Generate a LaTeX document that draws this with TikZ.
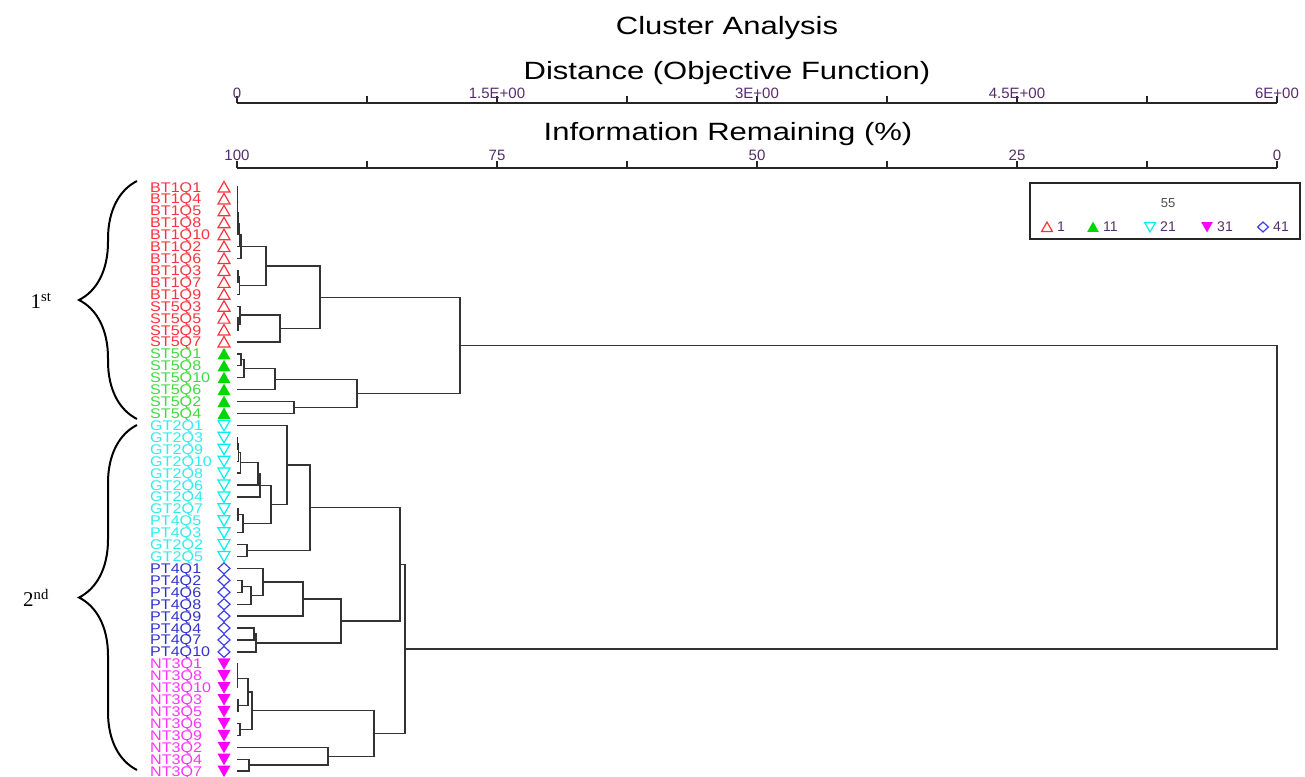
\documentclass[tikz,border=0pt]{standalone}
\usepackage{fontspec}
\setmainfont{Liberation Sans}
\newfontfamily\headfont[FakeStretch=1.24]{Liberation Sans}
\newfontfamily\leaffont[FakeStretch=1.15]{Liberation Sans}
\newfontfamily\bracefont{Liberation Serif}
\usetikzlibrary{calc,decorations.pathreplacing}

\definecolor{cr}{RGB}{255,50,60}
\definecolor{cg}{RGB}{60,220,60}
\definecolor{cc}{RGB}{50,235,235}
\definecolor{cb}{RGB}{50,50,205}
\definecolor{cm}{RGB}{255,50,255}
\definecolor{mkgreen}{RGB}{0,215,0}
\definecolor{mkcyan}{RGB}{0,240,240}
\definecolor{mkblue}{RGB}{60,60,240}
\definecolor{mkmag}{RGB}{255,0,255}
\definecolor{tickc}{RGB}{85,45,105}

\tikzset{
  branch/.style={draw=black!80, line width=1.3pt},
  leaf/.style={font=\leaffont\fontsize{14}{14}\selectfont, anchor=west,
    inner sep=0pt, text height=10pt, text depth=0pt},
  ticklab/.style={font=\fontsize{15}{15}\selectfont, text=tickc,
    inner sep=0pt, text height=11pt, text depth=0pt},
  heading/.style={font=\headfont\fontsize{25}{25}\selectfont,
    inner sep=0pt, text height=18pt, text depth=0pt},
  axisline/.style={line width=2pt, draw=black!85},
  bracket/.style={line width=2pt, decorate, decoration={brace, amplitude=58pt}},
  mkr/.pic={\draw[cr, line width=1.2pt] (-6,5) -- (6,5) -- (0,-5.5) -- cycle;},
  mkg/.pic={\fill[mkgreen] (-6.5,5.5) -- (6.5,5.5) -- (0,-6) -- cycle;},
  mkc/.pic={\draw[mkcyan, line width=1.2pt] (-6,-5) -- (6,-5) -- (0,5.5) -- cycle;},
  mkm/.pic={\fill[mkmag] (-6.5,-5.5) -- (6.5,-5.5) -- (0,6) -- cycle;},
  mkb/.pic={\draw[mkblue, line width=1.2pt] (0,-5.5) -- (6,0) -- (0,5.5) -- (-6,0) -- cycle;}
}

% join two clusters at distance #3, name the new one #4
\newcommand{\fuse}[4]{%
  \draw[branch] let \p1=(#1), \p2=(#2) in (\p1) -- (#3pt,\y1) -- (#3pt,\y2) -- (\p2);
  \path let \p1=(#1), \p2=(#2) in (#3pt,{0.5*\y1+0.5*\y2}) coordinate (#4);
}

\begin{document}
\begin{tikzpicture}[x=1pt, y=-1pt]
  \useasboundingbox (0,0) rectangle (1305,776);

  % titles
  \node[heading] (title) at (727,26) {Cluster Analysis};
  \node[heading] (distname) at (727,70) {Distance (Objective Function)};
  \node[heading] (infoname) at (728,131) {Information Remaining (\%)};

  % the two scales
  \draw[axisline] (237,103) -- (1277,103);
  \draw[axisline] (237,168) -- (1277,168);
  \foreach \t in {0,...,8} {
    \draw[axisline] ({237+130*\t},103) -- ++(0,-7);
    \draw[axisline] ({237+130*\t},168) -- ++(0,-7);
  }
  \foreach \t/\d/\p in {0/0/100, 2/1.5E+00/75, 4/3E+00/50, 6/4.5E+00/25, 8/6E+00/0} {
    \node[ticklab] (d\t) at ({237+130*\t},93) {\d};
    \node[ticklab] (p\t) at ({237+130*\t},155) {\p};
  }

  % the samples
  \foreach \lab/\grp [count=\i] in {
    BT1Q1/r, BT1Q4/r, BT1Q5/r, BT1Q8/r, BT1Q10/r, BT1Q2/r, BT1Q6/r, BT1Q3/r,
    BT1Q7/r, BT1Q9/r, ST5Q3/r, ST5Q5/r, ST5Q9/r, ST5Q7/r,
    ST5Q1/g, ST5Q8/g, ST5Q10/g, ST5Q6/g, ST5Q2/g, ST5Q4/g,
    GT2Q1/c, GT2Q3/c, GT2Q9/c, GT2Q10/c, GT2Q8/c, GT2Q6/c, GT2Q4/c, GT2Q7/c,
    PT4Q5/c, PT4Q3/c, GT2Q2/c, GT2Q5/c,
    PT4Q1/b, PT4Q2/b, PT4Q6/b, PT4Q8/b, PT4Q9/b, PT4Q4/b, PT4Q7/b, PT4Q10/b,
    NT3Q1/m, NT3Q8/m, NT3Q10/m, NT3Q3/m, NT3Q5/m, NT3Q6/m, NT3Q9/m, NT3Q2/m,
    NT3Q4/m, NT3Q7/m} {
    \pgfmathsetmacro\yy{187+(\i-1)*11.92}
    \node[leaf, text=c\grp] (n\i) at (150,\yy) {\lab};
    \pic at (224,\yy) {mk\grp};
    \coordinate (l\i) at (237,\yy);
  }

  % first group
  \fuse{l1}{l2}{237.3}{a1}
  \fuse{a1}{l3}{237.5}{a2}
  \fuse{a2}{l4}{237.7}{a3}
  \fuse{a3}{l5}{238}{a4}
  \fuse{a4}{l6}{239.5}{a5}
  \fuse{a5}{l7}{241}{a6}
  \fuse{l8}{l9}{238}{a7}
  \fuse{a7}{l10}{239.5}{a8}
  \fuse{a6}{a8}{266}{a9}
  \fuse{l12}{l13}{238}{a10}
  \fuse{l11}{a10}{240}{a11}
  \fuse{a11}{l14}{280}{a12}
  \fuse{a9}{a12}{320}{a13}
  \fuse{l15}{l16}{241}{b1}
  \fuse{b1}{l17}{244}{b2}
  \fuse{b2}{l18}{275}{b3}
  \fuse{l19}{l20}{294}{b4}
  \fuse{b3}{b4}{357}{b5}
  \fuse{a13}{b5}{460}{first}

  % second group
  \fuse{l22}{l23}{237.5}{c1}
  \fuse{c1}{l24}{238.5}{c2}
  \fuse{c2}{l25}{240.5}{c3}
  \fuse{c3}{l26}{258}{c4}
  \fuse{c4}{l27}{260}{c5}
  \fuse{l28}{l29}{238}{c6}
  \fuse{c6}{l30}{243}{c7}
  \fuse{c5}{c7}{271}{c8}
  \fuse{l21}{c8}{287}{c9}
  \fuse{l31}{l32}{247}{c10}
  \fuse{c9}{c10}{310}{c11}
  \fuse{l34}{l35}{242}{e1}
  \fuse{e1}{l36}{251}{e2}
  \fuse{l33}{e2}{263}{e3}
  \fuse{e3}{l37}{303}{e4}
  \fuse{l38}{l39}{254}{e5}
  \fuse{e5}{l40}{256}{e6}
  \fuse{e4}{e6}{341}{e7}
  \fuse{c11}{e7}{400}{e8}
  \fuse{l41}{l42}{237.3}{f1}
  \fuse{f1}{l43}{237.8}{f2}
  \fuse{l44}{l45}{238}{f3}
  \fuse{f2}{f3}{248}{f4}
  \fuse{l46}{l47}{240}{f5}
  \fuse{f4}{f5}{252}{f6}
  \fuse{l49}{l50}{249}{f7}
  \fuse{l48}{f7}{328}{f8}
  \fuse{f6}{f8}{374}{f9}
  \fuse{e8}{f9}{405}{second}

  % root
  \fuse{first}{second}{1277}{root}

  % legend
  \draw[line width=1.5pt, draw=black!85] (1030,183) rectangle (1300,239);
  \node[font=\fontsize{13}{13}\selectfont, text=black!70] (lgtitle) at (1168,203) {55};
  \foreach \x/\grp/\n in {1047/r/1, 1093/g/11, 1150/c/21, 1207/m/31, 1263/b/41} {
    \pic[scale=0.9] at (\x,227) {mk\grp};
    \node[font=\fontsize{14}{14}\selectfont, text=tickc, anchor=west, inner sep=0pt]
      (lg\n) at (\x+10,227) {\n};
  }

  % the two groups
  \draw[bracket] (137,419) -- (137,181);
  \draw[bracket] (137,770) -- (137,425);
  \node[font=\bracefont\fontsize{21}{21}\selectfont] (firstlab) at (41,301) {1\textsuperscript{st}};
  \node[font=\bracefont\fontsize{21}{21}\selectfont] (secondlab) at (36,598) {2\textsuperscript{nd}};
\end{tikzpicture}
\end{document}
